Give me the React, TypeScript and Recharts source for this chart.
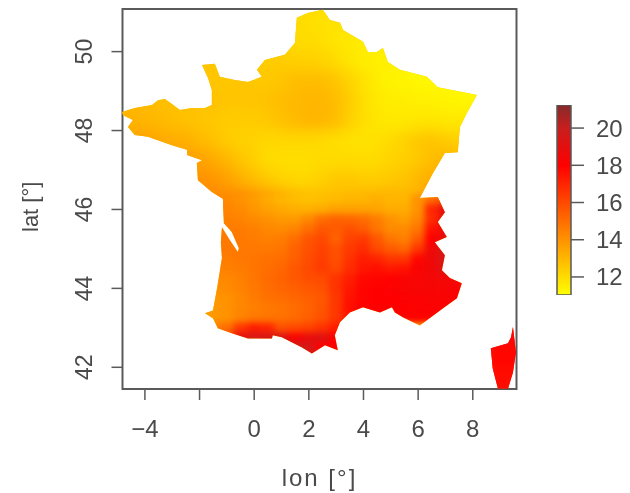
import React from 'react';
import { BarChart, Bar, ScatterChart, Scatter, XAxis, YAxis, ReferenceArea } from 'recharts';

// mainland and corsica outlines as [lon, lat]
const mainlandOutline = [
  [-4.84, 48.47], [-4.37, 48.57], [-3.74, 48.65], [-3.52, 48.77], [-3.27, 48.8], [-3.01, 48.67], [-2.72, 48.52],
  [-2.28, 48.57], [-1.8, 48.57], [-1.55, 48.65], [-1.55, 49.03], [-1.69, 49.33], [-1.91, 49.66], [-1.44, 49.69],
  [-1.26, 49.36], [-0.71, 49.28], [-0.23, 49.23], [0.28, 49.36], [0.1, 49.54], [0.39, 49.79], [1.12, 49.92],
  [1.49, 50.22], [1.56, 50.86], [1.96, 50.98], [2.51, 51.06], [2.77, 50.8], [3.14, 50.73], [3.25, 50.55],
  [3.98, 50.25], [4.16, 49.99], [4.49, 49.99], [4.71, 50.09], [4.89, 49.74], [5.33, 49.54], [6.32, 49.36],
  [6.72, 49.1], [8.15, 48.9], [7.78, 48.44], [7.53, 48.09], [7.45, 47.45], [6.98, 47.43], [6.54, 46.92],
  [6.06, 46.29], [6.72, 46.31], [6.98, 45.93], [6.72, 45.68], [7.05, 45.3], [6.61, 45.17], [6.98, 44.84],
  [6.87, 44.46], [7.16, 44.26], [7.6, 44.13], [7.42, 43.75], [6.9, 43.49], [6.06, 43.06], [5.44, 43.27],
  [5.15, 43.39], [5.04, 43.52], [4.6, 43.39], [3.98, 43.52], [3.5, 43.39], [3.14, 43.14], [2.95, 42.81],
  [3.06, 42.43], [2.59, 42.56], [2.11, 42.35], [1.75, 42.5], [1.01, 42.76], [0.68, 42.81], [0.65, 42.73],
  [-0.23, 42.73], [-0.82, 42.86], [-1.33, 42.99], [-1.51, 43.24], [-1.8, 43.37], [-1.51, 43.44], [-1.36, 44],
  [-1.18, 44.77], [-1.22, 45.17], [-1.18, 45.55], [-0.89, 45.22], [-0.6, 44.92], [-0.56, 45.02], [-0.82, 45.43],
  [-1.11, 45.65], [-1.15, 46.36], [-1.07, 46.24], [-1.55, 46.44], [-2.06, 46.74], [-2.1, 47.18], [-1.91, 47.25],
  [-2.46, 47.38], [-2.46, 47.51], [-3.01, 47.63], [-3.89, 47.84], [-4.37, 47.89], [-4.62, 48.09], [-4.44, 48.27],
  [-4.8, 48.39],
];
const corsicaOutline = [
  [9.47, 43.02], [9.58, 42.38], [9.47, 41.87], [9.29, 41.46], [8.92, 41.46], [8.73, 41.97], [8.66, 42.48],
  [9.29, 42.61], [9.4, 42.76],
];

const northLats = [51.25, 50.75, 50.25, 49.75, 49.25, 48.75, 48.25, 47.75, 47.25, 46.75, 46.25];
const northStarts = [1.5, 1, 0.5, -2.5, -2.5, -5, -5, -5, -3.5, -3, -2];
const northTemps = [
  [12, 12, 11.9, 11.8, 11.8, 11.8],
  [12.1, 12, 11.9, 11.8, 11.8, 11.8, 11.7, 11.6],
  [12.2, 12.2, 12, 12, 11.9, 11.7, 11.6, 11.5, 11.5, 11.5, 11.4],
  [12.6, 12.6, 12.5, 12.5, 12.5, 12.4, 12.4, 12.4, 12.3, 12.3, 12.2, 12, 11.7, 11.5, 11.4, 11.4, 11.3, 11.2, 11.2],
  [12.6, 12.6, 12.6, 12.5, 12.6, 12.5, 12.5, 12.6, 12.8, 12.8, 12.8, 12.6, 12.2, 11.8, 11.5, 11.3, 11.3, 11.2, 11.2, 11.2, 11.1, 11.1, 11.1],
  [13, 13, 12.9, 12.8, 12.7, 12.7, 12.7, 12.7, 12.6, 12.6, 12.6, 12.7, 12.8, 12.9, 13, 13, 12.8, 12.4, 11.9, 11.6, 11.5, 11.5, 11.4, 11.4, 11.3, 11.3, 11.2, 11.2],
  [13, 13.1, 13, 12.9, 12.8, 12.7, 12.6, 12.5, 12.4, 12.4, 12.4, 12.5, 12.7, 12.9, 13, 13, 12.8, 12.3, 11.9, 11.7, 11.6, 11.6, 11.7, 11.7, 11.6, 11.6, 11.6, 11.6],
  [13.4, 13.5, 13.6, 13.4, 13.2, 13.2, 12.9, 12.7, 12.4, 12.3, 12.2, 12.1, 12.1, 12.1, 12.1, 12, 11.9, 11.8, 11.8, 11.8, 12, 12.2, 12.5, 12.6, 12.4, 12.3, 12.3, 12.3],
  [13.8, 13.7, 13.6, 13.6, 13.3, 13, 12.6, 12.3, 12, 11.9, 11.9, 11.9, 12, 12, 12, 12, 12, 12.2, 12.3, 12.5, 12.8, 13, 13, 13],
  [14, 14, 14, 13.9, 13.6, 13.2, 12.8, 12.5, 12.2, 12.1, 12.1, 12.3, 12.5, 12.5, 12.4, 12.4, 12.5, 12.6, 13, 13.2, 13.5, 14.2, 14.5],
  [14.2, 14.2, 14.2, 14.2, 14, 13.7, 13.3, 13, 12.8, 12.7, 12.8, 12.9, 13, 13, 13.2, 13, 13, 14, 15, 15],
];

const southLats = [46.25, 46, 45.75, 45.5, 45.25, 45, 44.75, 44.5, 44.25, 44, 43.75, 43.5, 43.25, 43, 42.75, 42.5, 42.25];
const southStarts = [-2, -2, -2, -2, -2, -2, -2, -2, -2, -2, -2, -2, -2, -2, -2, 0.5, 0.5];
const southTemps = [
  [14.2, 14.2, 14.2, 14, 13.7, 13.3, 13, 12.8, 12.7, 12.8, 12.9, 13, 13, 13.2, 13, 13, 14, 15, 16, 16],
  [14.4, 14.4, 14.4, 14.2, 13.9, 13.6, 13.4, 13.2, 13.2, 13.3, 13.6, 13.6, 13.6, 13.5, 13.3, 13.3, 14, 17, 19, 19],
  [14.5, 14.5, 14.5, 14.4, 14.2, 14, 13.8, 13.8, 14.3, 15, 15.3, 15.2, 15, 14.6, 14, 13.7, 14.3, 16.8, 18.5, 18.5],
  [14.6, 14.6, 14.6, 14.6, 14.5, 14.3, 14.2, 14.4, 15, 15.6, 15.5, 15.8, 15.5, 14.8, 14.2, 14.2, 14.8, 17.5, 18.5, 18.5],
  [14.7, 14.7, 14.7, 14.7, 14.6, 14.5, 14.6, 15, 15.7, 16, 15.3, 16.2, 16.4, 15.6, 14.8, 14.5, 15.5, 18, 19, 19],
  [14.7, 14.7, 14.7, 14.7, 14.7, 14.7, 14.8, 15.3, 15.8, 16.2, 15.8, 16.4, 16.8, 16, 15.5, 15.2, 16.5, 18.5, 19.5, 19.5],
  [14.6, 14.6, 14.6, 14.7, 14.8, 14.9, 15, 15.4, 15.9, 16.3, 15.8, 16.6, 17.2, 17, 16.5, 16.5, 17.8, 18.6, 19.5, 19.5],
  [14.5, 14.5, 14.5, 14.6, 14.8, 15, 15.2, 15.6, 16, 16.4, 16, 16.8, 17.4, 17.6, 17.3, 17.5, 18.2, 18.5, 19.2, 18.5],
  [14.2, 14.2, 14.3, 14.5, 14.8, 15.1, 15.3, 15.6, 15.9, 16, 16.6, 17.2, 17.8, 17.9, 18, 18.2, 18.3, 18.4, 18.5, 18.3],
  [14, 14, 14.2, 14.4, 14.7, 15, 15.2, 15.4, 15.6, 15.8, 16.6, 17.4, 17.9, 18, 18.1, 18.2, 18.3, 18.3, 18.3, 18.2],
  [13.8, 13.8, 14, 14.3, 14.6, 14.9, 15, 15.2, 15.4, 15.6, 16.5, 17.5, 17.9, 18, 18, 18.1, 18.1, 18.2, 18.2, 18],
  [13.8, 13.8, 14, 14.3, 14.5, 14.7, 14.8, 15, 15.3, 15.7, 16.5, 17.6, 18, 18, 18, 18, 18.1, 18.1, 18.1, 18],
  [13.8, 13.8, 14, 14.4, 14.7, 14.8, 14.9, 15.1, 15.4, 15.8, 16.5, 17.5, 18, 18, 18, 18, 18, 18, 18, 18],
  [14.5, 14.5, 15, 16.5, 17.2, 17, 15.8, 16, 16.2, 16.6, 17.2, 18, 18, 18],
  [15, 15, 16, 19, 19.5, 19.5, 19.3, 18.2, 18.8, 19.2, 18, 18],
  [18.5, 19.5, 20, 19.5, 18, 18],
  [18.5, 19.5, 20, 19.5, 18, 18],
];

const corsicaLats = [43.25, 42.75, 42.25, 41.75, 41.25];
const corsicaTemps = [
  [17.7, 17.7, 17.7, 17.7],
  [17.7, 17.8, 17.8, 17.7],
  [17.7, 17.8, 17.8, 17.7],
  [17.6, 17.7, 17.7, 17.6],
  [17.6, 17.6, 17.6, 17.6],
];

const lonTicks = [-4, -2, 0, 2, 4, 6, 8];
const latTicks = [42, 44, 46, 48, 50];
const legendTicks = [12, 14, 16, 18, 20];

const tempStops = [11, 18, 20, 21.3];
const tempColors = [[255, 255, 0], [255, 0, 0], [200, 30, 30], [133, 42, 42]];

const LON_MIN = -4.82;
const LON_MAX = 9.6;
const LAT_MIN = 41.45;
const LAT_MAX = 51.08;
const LEGEND_MIN = 11.03;
const LEGEND_MAX = 21.24;
const PLOT_W = 394;
const PLOT_H = 380;
const TEXT = '#4a4a4a';
const LINE = '#5a5a5a';
const FONT = 'Liberation Sans';

const tempColor = (t: number) => {
  let i = 0;
  while (i < tempStops.length - 2 && t > tempStops[i + 1]) i++;
  const f = Math.min(1, Math.max(0, (t - tempStops[i]) / (tempStops[i + 1] - tempStops[i])));
  const c = tempColors[i].map((v, k) => Math.round(v + (tempColors[i + 1][k] - v) * f));
  return `rgb(${c[0]},${c[1]},${c[2]})`;
};

const buildCells = (lats: number[], starts: number[], temps: number[][], lonStep: number) =>
  lats.flatMap((lat, r) => temps[r].map((temp, c) => ({ lon: starts[r] + c * lonStep, lat, temp })));

const northCells = buildCells(northLats, northStarts, northTemps, 0.5);
const southCells = buildCells(southLats, southStarts, southTemps, 0.5);
const corsicaCells = buildCells(corsicaLats, corsicaLats.map(() => 8.5), corsicaTemps, 0.5);
const outlinePoints = [...mainlandOutline, ...corsicaOutline].map(([lon, lat]) => ({ lon, lat }));

const makeCell = (lonStep: number, latStep: number) => (props: any) => {
  const w = (lonStep * PLOT_W) / (LON_MAX - LON_MIN) + 0.6;
  const h = (latStep * PLOT_H) / (LAT_MAX - LAT_MIN) + 0.6;
  return <rect x={props.cx - w / 2} y={props.cy - h / 2} width={w} height={h} fill={tempColor(props.payload.temp)} />;
};

const pathOf = (pts: any[]) =>
  'M' + pts.map((p) => `${p.x ?? p.cx},${p.y ?? p.cy}`).join('L') + 'Z';

// the country shape, used to clip the colour field
const renderOutline = (props: any) => {
  const main = props.points.slice(0, mainlandOutline.length);
  const cors = props.points.slice(mainlandOutline.length);
  return (
    <g>
      <defs>
        <clipPath id="france">
          <path d={pathOf(main)} />
          <path d={pathOf(cors)} />
        </clipPath>
      </defs>
      <path d={pathOf(main)} fill="#ffc400" stroke="none" />
      <path d={pathOf(cors)} fill="#ff2000" stroke="none" />
    </g>
  );
};

const LonTick = ({ x, y, payload }: any) => (
  <text x={x} y={y + 35} textAnchor="middle" fontSize={24} fill={TEXT} fontFamily={FONT}>
    {payload.value === -2 ? '' : String(payload.value).replace('-', '\u2212')}
  </text>
);

const LatTick = ({ x, y, payload }: any) => (
  <text x={x - 17} y={y} textAnchor="middle" fontSize={23} fill={TEXT} fontFamily={FONT} transform={`rotate(-90 ${x - 17} ${y})`}>
    {payload.value}
  </text>
);

const northShape = makeCell(0.5, 0.5);
const southShape = makeCell(0.5, 0.25);
const corsicaShape = makeCell(0.5, 0.5);

const legendData = [{ name: 'temp', range: [LEGEND_MIN, LEGEND_MAX] }];

const TempLegend = () => (
  <div style={{ position: 'absolute', left: 530, top: 90 }}>
    <BarChart width={100} height={220} data={legendData} margin={{ top: 15, right: 0, bottom: 15, left: 27 }} barCategoryGap={0}>
      <defs>
        <linearGradient id="tempGradient" x1="0" y1="1" x2="0" y2="0">
          {tempStops.map((s, i) => (
            <stop
              key={s}
              offset={(s - LEGEND_MIN) / (LEGEND_MAX - LEGEND_MIN)}
              stopColor={`rgb(${tempColors[i].join(',')})`}
            />
          ))}
        </linearGradient>
      </defs>
      <XAxis dataKey="name" hide />
      <YAxis
        orientation="right"
        width={59}
        type="number"
        domain={[LEGEND_MIN, LEGEND_MAX]}
        ticks={legendTicks}
        axisLine={false}
        tickSize={13}
        tickLine={{ stroke: LINE, strokeWidth: 1.5 }}
        tickMargin={12}
        tick={{ fontSize: 24, fill: TEXT, fontFamily: FONT }}
        allowDataOverflow
      />
      <Bar dataKey="range" fill="url(#tempGradient)" stroke={LINE} strokeWidth={1.5} isAnimationActive={false} />
    </BarChart>
  </div>
);

const App = () => (
  <div style={{ position: 'absolute', left: 0, top: 0, width: 630, height: 493, background: '#fff', filter: 'blur(0.7px)' }}>
    <style>{`
      .field-north { filter: blur(7px); clip-path: url(#france); }
      .field-south { filter: blur(3px); clip-path: url(#france); }
    `}</style>
    <ScatterChart width={630} height={493} margin={{ top: 9, right: 113.5, bottom: 0, left: 0 }}>
      <XAxis
        type="number"
        dataKey="lon"
        domain={[LON_MIN, LON_MAX]}
        ticks={lonTicks}
        height={104}
        allowDataOverflow
        axisLine={false}
        tickSize={11}
        tickLine={{ stroke: LINE, strokeWidth: 1.5 }}
        tick={<LonTick />}
        interval={0}
        label={{ value: 'lon [°]', position: 'insideBottom', offset: 7, fontSize: 24, letterSpacing: 2, fill: TEXT, fontFamily: FONT }}
      />
      <YAxis
        type="number"
        dataKey="lat"
        domain={[LAT_MIN, LAT_MAX]}
        ticks={latTicks}
        width={122.5}
        allowDataOverflow
        axisLine={false}
        tickSize={11}
        tickLine={{ stroke: LINE, strokeWidth: 1.5 }}
        tick={<LatTick />}
        interval={0}
        label={{ value: 'lat [°]', angle: -90, position: 'insideLeft', offset: 30, dy: 33, fontSize: 22, fill: TEXT, fontFamily: FONT }}
      />
      <Scatter data={outlinePoints} line={renderOutline} shape={() => null} isAnimationActive={false} />
      <Scatter className="field-north" data={northCells} shape={northShape} isAnimationActive={false} />
      <Scatter className="field-south" data={southCells} shape={southShape} isAnimationActive={false} />
      <Scatter className="field-south" data={corsicaCells} shape={corsicaShape} isAnimationActive={false} />
      <ReferenceArea x1={LON_MIN} x2={LON_MAX} y1={LAT_MIN} y2={LAT_MAX} fill="none" stroke={LINE} strokeWidth={2} ifOverflow="visible" />
    </ScatterChart>
    <TempLegend />
  </div>
);

export default App;
